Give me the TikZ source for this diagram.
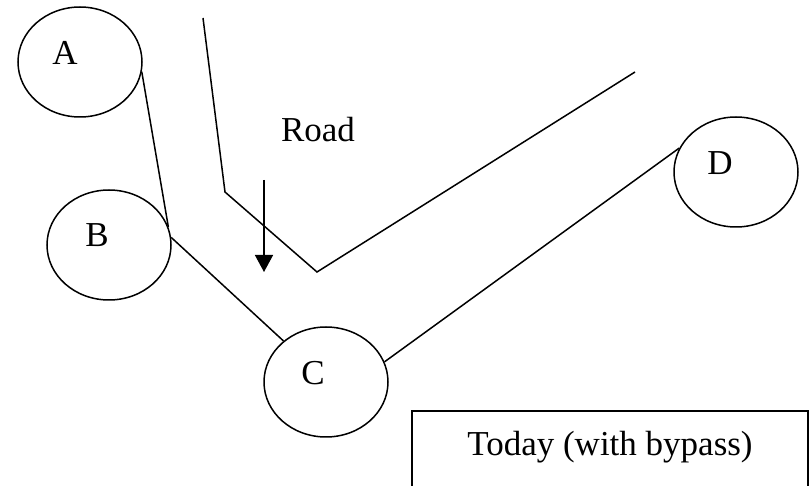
\documentclass[tikz,border=0pt]{standalone}
\usepackage{fontspec}
\setmainfont{Liberation Serif}
\usetikzlibrary{shapes.geometric,arrows.meta}
\begin{document}
\begin{tikzpicture}[x=0.5pt, y=-0.5pt,
    % Styles
    site/.style={draw, ellipse, minimum width=62pt, minimum height=55pt,
                 line width=0.75pt, inner sep=0pt},
    lbl/.style={font=\fontsize{17.5}{21}\selectfont, inner sep=0pt},
    link/.style={line width=0.75pt},
    road/.style={line width=0.75pt, line join=miter},
    arrow/.style={-{Triangle[length=8.5pt, width=9pt]}, line width=0.75pt},
    note/.style={draw, line width=0.75pt, minimum width=198pt, minimum height=40pt,
                 text height=14.5pt, text depth=9.5pt, font=\fontsize{17.5}{21}\selectfont},
  ]
  \useasboundingbox (0,0) rectangle (810,486);

  % Sites
  \node[site] (A) at (80,62) {};
  \node[site] (B) at (109,245) {};
  \node[site] (C) at (326,382) {};
  \node[site] (D) at (736,172) {};
  \node[lbl] (Alab) at ([shift={(-15,-9)}]A.center) {A};
  \node[lbl] (Blab) at ([shift={(-12,-10)}]B.center) {B};
  \node[lbl] (Clab) at ([shift={(-13,-9)}]C.center) {C};
  \node[lbl] (Dlab) at ([shift={(-16,-9)}]D.center) {D};

  % Links
  \draw[link] (A.-9) -- (B.17);
  \draw[link] (B.7) -- (C.136);
  \draw[link] (C.19) -- (D.157);

  % Road
  \draw[road] (203,18) -- (225,192) -- (317,272) -- (635,72);
  \node[lbl] (roadlab) at (318,130) {Road};
  \coordinate (flowtop) at (264,180);
  \coordinate (flowend) at (264,272);
  \draw[arrow] (flowtop) -- (flowend);

  % Caption
  \node[note] (caption) at (610,451) {Today (with bypass)};

\end{tikzpicture}
\end{document}
